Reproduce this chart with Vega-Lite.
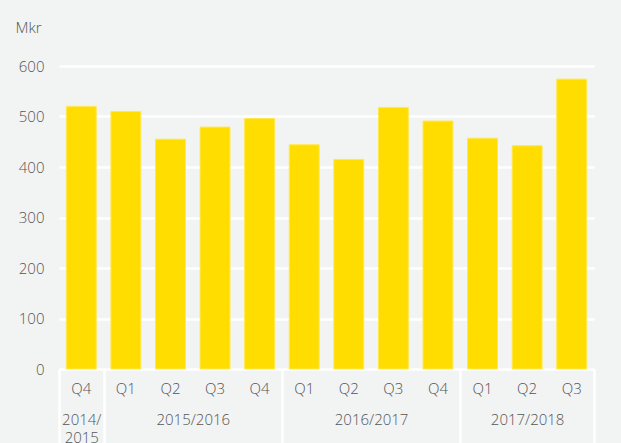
{
  "$schema": "https://vega.github.io/schema/vega-lite/v6.json",
  "autosize": "none",
  "width": 535,
  "height": 303,
  "padding": {"left": 59, "top": 66, "right": 27, "bottom": 74},
  "background": "#f2f3f3",
  "config": {
    "view": {"stroke": null},
    "font": "Open Sans",
    "axis": {"labelFont": "Open Sans", "labelFontSize": 15, "labelFontWeight": 300, "labelColor": "#555555", "titleFont": "Open Sans", "titleFontWeight": 300, "titleColor": "#555555", "titleFontSize": 15}
  },
  "datasets": {
    "bars": [
      {"key": "2014/2015 Q4", "value": 520},
      {"key": "2015/2016 Q1", "value": 510},
      {"key": "2015/2016 Q2", "value": 455},
      {"key": "2015/2016 Q3", "value": 479},
      {"key": "2015/2016 Q4", "value": 496},
      {"key": "2016/2017 Q1", "value": 444},
      {"key": "2016/2017 Q2", "value": 415},
      {"key": "2016/2017 Q3", "value": 518},
      {"key": "2016/2017 Q4", "value": 491},
      {"key": "2017/2018 Q1", "value": 457},
      {"key": "2017/2018 Q2", "value": 442},
      {"key": "2017/2018 Q3", "value": 574}
    ],
    "years": [
      {"year": "2014/2015", "start": 0, "mid": 0.5, "end": 1},
      {"year": "2015/2016", "start": 1, "mid": 3, "end": 5},
      {"year": "2016/2017", "start": 5, "mid": 7, "end": 9},
      {"year": "2017/2018", "start": 9, "mid": 10.5, "end": 12}
    ]
  },
  "layer": [
    {
      "data": {"name": "bars"},
      "mark": {"type": "bar", "color": "#FFDD00", "stroke": "#FFE84D", "strokeWidth": 1},
      "encoding": {
        "x": {
          "field": "key", "type": "nominal", "sort": null,
          "scale": {"paddingInner": 0.33, "paddingOuter": 0.165},
          "axis": {
            "title": null, "labelAngle": 0, "ticks": false, "domain": false, "grid": false,
            "labelPadding": 12, "labelExpr": "split(datum.value, ' ')[1]"
          }
        },
        "y": {
          "field": "value", "type": "quantitative",
          "scale": {"domain": [0, 600], "nice": false},
          "axis": {
            "title": "Mkr", "titleAngle": 0, "titleAlign": "left", "titleBaseline": "alphabetic",
            "titleX": -44, "titleY": -34,
            "values": [0, 100, 200, 300, 400, 500, 600],
            "grid": true, "gridColor": "#ffffff", "gridWidth": 2.5, "gridOpacity": 1,
            "domain": false, "ticks": false, "labelPadding": 15
          }
        }
      }
    },
    {
      "data": {"name": "years"},
      "mark": {"type": "tick", "opacity": 0},
      "encoding": {
        "x": {
          "field": "end", "type": "quantitative",
          "scale": {"domain": [0, 12], "nice": false, "zero": false},
          "axis": {
            "orient": "bottom", "title": null, "values": [0, 1, 5, 9, 12],
            "labels": false, "domain": false, "grid": false,
            "ticks": true, "tickColor": "#ffffff", "tickWidth": 2.5, "tickSize": 76, "tickOpacity": 1, "offset": 0
          }
        }
      }
    },
    {
      "data": {"name": "years"},
      "mark": {"type": "tick", "opacity": 0},
      "encoding": {
        "x": {
          "field": "mid", "type": "quantitative",
          "scale": {"domain": [0, 12], "nice": false, "zero": false},
          "axis": {
            "orient": "bottom", "title": null, "values": [0.5, 3, 7, 10.5],
            "domain": false, "grid": false, "ticks": false, "offset": 0,
            "labelPadding": 43, "labelLineHeight": 18, "labelFlush": false, "labelOverlap": false,
            "labelExpr": "datum.value == 0.5 ? ['2014/', '2015'] : datum.value == 3 ? '2015/2016' : datum.value == 7 ? '2016/2017' : '2017/2018'"
          }
        }
      }
    }
  ],
  "resolve": {"scale": {"x": "independent"}, "axis": {"x": "independent"}}
}
